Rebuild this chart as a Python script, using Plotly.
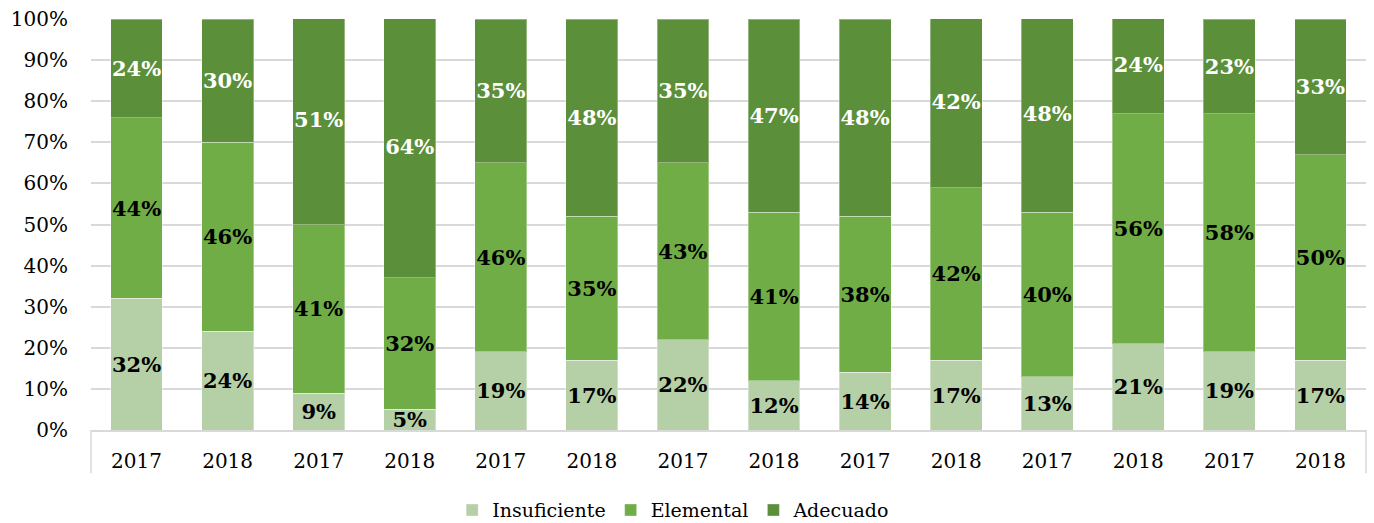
import plotly.graph_objects as go

years = ["2017", "2018", "2017", "2018", "2017", "2018", "2017", "2018",
         "2017", "2018", "2017", "2018", "2017", "2018"]
insuficiente = [32, 24, 9, 5, 19, 17, 22, 12, 14, 17, 13, 21, 19, 17]
elemental = [44, 46, 41, 32, 46, 35, 43, 41, 38, 42, 40, 56, 58, 50]
adecuado = [24, 30, 51, 64, 35, 48, 35, 47, 48, 42, 48, 24, 23, 33]
series_names = ["Insuficiente", "Elemental", "Adecuado"]
colors = ["#b5cfa7", "#70ad47", "#5b8f3a"]
text_colors = ["black", "black", "white"]

FONT = "DejaVu Serif"
xpos = list(range(len(years)))

fig = go.Figure()
for name, vals, col, tcol in zip(series_names, [insuficiente, elemental, adecuado], colors, text_colors):
    fig.add_trace(go.Bar(
        x=xpos,
        y=[v / 100 for v in vals],
        name=name,
        marker=dict(color=col, line=dict(color="rgba(255,255,255,0.35)", width=1)),
        text=[f"{v}%" for v in vals],
        textposition="inside",
        insidetextanchor="middle",
        textangle=0,
        constraintext="none",
        textfont=dict(family=FONT, size=21, color=tcol, weight="bold"),
    ))

fig.update_layout(
    barmode="stack",
    bargap=0.43,
    width=1374,
    height=523,
    margin=dict(l=91, r=8, t=19, b=93, autoexpand=False),
    paper_bgcolor="white",
    plot_bgcolor="white",
    font=dict(family=FONT, size=20, color="black"),
    showlegend=True,
    legend=dict(orientation="h", x=0.457, xanchor="center", y=-0.195, yanchor="middle",
                font=dict(family=FONT, size=19, color="black"), traceorder="normal",
                itemwidth=30),
    xaxis=dict(
        range=[-0.5, len(years) - 0.5],
        tickmode="array",
        tickvals=xpos,
        ticktext=years,
        showline=True,
        linecolor="#d9d9d9",
        linewidth=1.5,
        showgrid=False,
        zeroline=False,
        ticks="outside",
        ticklen=12,
        tickcolor="rgba(0,0,0,0)",
        tickfont=dict(family=FONT, size=20),
        automargin=False,
    ),
    yaxis=dict(
        range=[0, 1],
        dtick=0.1,
        tickformat=".0%",
        showgrid=True,
        gridcolor="#d9d9d9",
        gridwidth=1.5,
        zeroline=False,
        showline=False,
        ticks="outside",
        ticklen=18,
        tickcolor="rgba(0,0,0,0)",
        tickfont=dict(family=FONT, size=20),
        automargin=False,
    ),
    shapes=[
        dict(type="line", xref="paper", yref="paper", x0=0, x1=0, y0=0, y1=-0.105,
             line=dict(color="#d9d9d9", width=1.5)),
        dict(type="line", xref="paper", yref="paper", x0=1, x1=1, y0=0, y1=-0.105,
             line=dict(color="#d9d9d9", width=1.5)),
    ],
)

fig.write_html("out.html",
               config={"displayModeBar": False},
               post_script="document.body.style.margin='0';document.body.style.overflow='hidden';")
